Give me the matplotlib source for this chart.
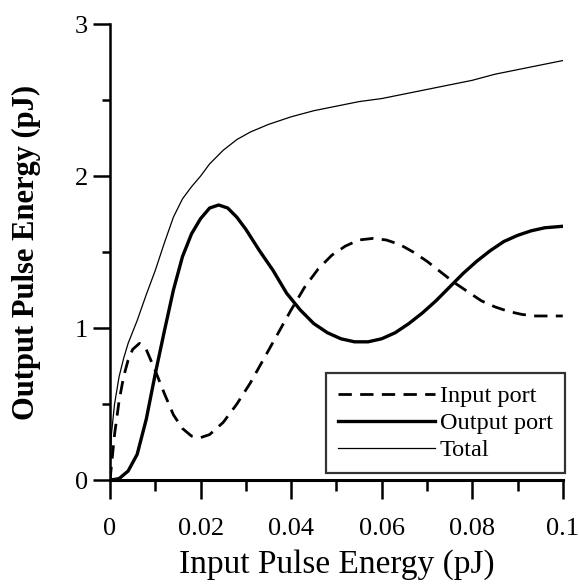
import matplotlib
matplotlib.use('Agg')
import matplotlib.pyplot as plt
from matplotlib.ticker import MultipleLocator

# values
x_in = [0, 0.001, 0.002, 0.003, 0.004, 0.005, 0.0065, 0.008, 0.010, 0.012, 0.014,
        0.016, 0.018, 0.020, 0.022, 0.025, 0.028, 0.031, 0.034, 0.037, 0.040,
        0.043, 0.046, 0.049, 0.052, 0.055, 0.058, 0.061, 0.064, 0.067, 0.070,
        0.073, 0.076, 0.079, 0.082, 0.085, 0.088, 0.091, 0.094, 0.097, 0.100]
y_in = [0, 0.30, 0.52, 0.68, 0.79, 0.86, 0.90, 0.86, 0.72, 0.57, 0.43,
        0.34, 0.29, 0.28, 0.30, 0.38, 0.50, 0.64, 0.80, 0.96, 1.12,
        1.27, 1.39, 1.48, 1.54, 1.58, 1.59, 1.58, 1.55, 1.50, 1.44,
        1.37, 1.30, 1.24, 1.18, 1.14, 1.11, 1.09, 1.08, 1.08, 1.08]

x_out = [0, 0.002, 0.004, 0.006, 0.008, 0.010, 0.012, 0.014, 0.016, 0.018, 0.020,
         0.022, 0.024, 0.026, 0.028, 0.030, 0.033, 0.036, 0.039, 0.042, 0.045,
         0.048, 0.051, 0.054, 0.057, 0.060, 0.063, 0.066, 0.069, 0.072, 0.075,
         0.078, 0.081, 0.084, 0.087, 0.090, 0.093, 0.096, 0.100]
y_out = [0, 0.01, 0.06, 0.17, 0.40, 0.70, 0.98, 1.25, 1.47, 1.62, 1.72,
         1.79, 1.81, 1.79, 1.73, 1.65, 1.51, 1.38, 1.23, 1.12, 1.03,
         0.97, 0.93, 0.91, 0.91, 0.93, 0.97, 1.03, 1.10, 1.18, 1.27,
         1.36, 1.44, 1.51, 1.57, 1.61, 1.64, 1.66, 1.67]

x_tot = [0, 0.0003, 0.001, 0.002, 0.003, 0.004, 0.006, 0.008, 0.010, 0.012, 0.014,
         0.016, 0.018, 0.020, 0.022, 0.025, 0.028, 0.031, 0.035, 0.040, 0.045,
         0.050, 0.055, 0.060, 0.065, 0.070, 0.075, 0.080, 0.085, 0.090, 0.095, 0.100]
y_tot = [0, 0.30, 0.50, 0.68, 0.80, 0.90, 1.05, 1.22, 1.38, 1.56, 1.73,
         1.85, 1.93, 2.00, 2.08, 2.17, 2.24, 2.29, 2.34, 2.39, 2.43,
         2.46, 2.49, 2.51, 2.54, 2.57, 2.60, 2.63, 2.67, 2.70, 2.73, 2.76]

xticks = [0, 0.02, 0.04, 0.06, 0.08, 0.1]
xticklabels = ['0', '0.02', '0.04', '0.06', '0.08', '0.1']
yticks = [0, 1, 2, 3]

plt.rcParams['font.family'] = ['Liberation Serif', 'DejaVu Serif']

fig = plt.figure(figsize=(5.79, 5.87), dpi=100)
ax = fig.add_axes([0.190, 0.182, 0.782, 0.777])

ax.plot(x_in, y_in, color='k', lw=2.0, dashes=(4.8, 3), label='Input port')
ax.plot(x_out, y_out, color='k', lw=2.4, label='Output port')
ax.plot(x_tot, y_tot, color='k', lw=0.9, label='Total')

ax.set_xlim(0, 0.1)
ax.set_ylim(0, 3)
ax.set_xticks(xticks)
ax.set_xticklabels(xticklabels)
ax.set_yticks(yticks)
ax.xaxis.set_minor_locator(MultipleLocator(0.01))
ax.yaxis.set_minor_locator(MultipleLocator(0.5))

for s in ['top', 'right']:
    ax.spines[s].set_visible(False)
ax.spines['left'].set_linewidth(1.8)
ax.spines['bottom'].set_linewidth(2.2)

ax.tick_params(axis='x', which='major', direction='out', length=14, width=1.8,
               labelsize=19, pad=13)
ax.tick_params(axis='x', which='minor', direction='out', length=8, width=1.8)
ax.tick_params(axis='y', which='major', direction='out', length=12, width=1.8,
               labelsize=19, pad=4)
ax.tick_params(axis='y', which='minor', direction='out', length=6, width=1.8)

ax.set_xlabel('Input Pulse Energy (pJ)', fontsize=24, labelpad=7)
ax.set_ylabel('Output Pulse Energy (pJ)', fontsize=22, fontweight='bold', labelpad=24)

leg = ax.legend(loc='lower right', bbox_to_anchor=(1.005, 0.015), fontsize=17.5,
                frameon=True, fancybox=False, handlelength=4.0, handletextpad=0.2,
                borderpad=0.5, labelspacing=0.2, borderaxespad=0.0)
leg.get_frame().set_edgecolor('k')
leg.get_frame().set_linewidth(1.6)

fig.savefig('out.png', dpi=100)
